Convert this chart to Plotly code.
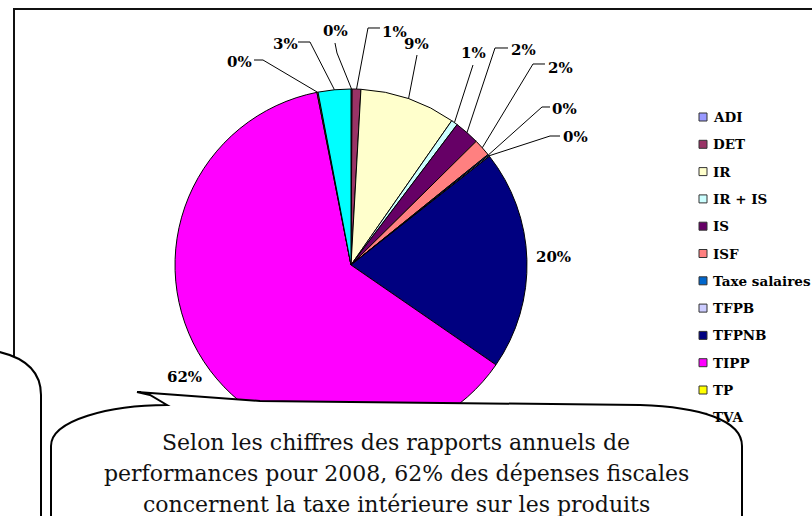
import math
import plotly.graph_objects as go

# ---------------- data ----------------
categories = ["ADI", "DET", "IR", "IR + IS", "IS", "ISF", "Taxe salaires",
              "TFPB", "TFPNB", "TIPP", "TP", "TVA"]
shares = [0.1, 0.8, 8.8, 0.6, 2.3, 1.6, 0.1, 0.1, 20.2, 62.3, 0.1, 3.0]
colors = ["#9999FF", "#993366", "#FFFFCC", "#CCFFFF", "#660066", "#FF8080",
          "#0066CC", "#CCCCFF", "#000080", "#FF00FF", "#FFFF00", "#00FFFF"]
callout_lines = [
    "Selon les chiffres des rapports annuels de",
    "performances pour 2008, 62% des dépenses fiscales",
    "concernent la taxe intérieure sur les produits",
]

# ---------------- layout helpers (pixel positions) ----------------
W, H = 812, 516
CX, CY, R = 351, 265, 176


def X(px):
    return px / W


def Y(py):
    return 1 - py / H


# label centres and leader-line waypoints (pixels)
label_pos = [(335, 31), (394, 32), (417, 44), (473, 53), (523, 50), (560, 68),
             (564, 109), (575, 137), (553, 257), (184, 377), (239, 62), (285, 44)]
leader_pts = [[(337, 53), (335, 43)], [(368, 28), (380, 28)], [(417, 55)],
              [(473, 65)], [(495, 48), (508, 48)], [(533, 64), (545, 64)],
              [(542, 107), (550, 107)], [(550, 136), (560, 136)], None, None,
              [(263, 60), (254, 60)], [(310, 42), (298, 42)]]

serif_b = dict(family="DejaVu Serif", size=15, color="black")

fig = go.Figure()
fig.add_trace(go.Pie(
    labels=categories, values=shares, sort=False, direction="clockwise",
    rotation=0, textinfo="none", hoverinfo="label+percent",
    marker=dict(colors=colors, line=dict(color="black", width=1)),
    domain=dict(x=[X(CX - R), X(CX + R)], y=[Y(CY + R), Y(CY - R)]),
    showlegend=False,
))

shapes = []
annotations = []

# chart frame
shapes.append(dict(type="rect", xref="paper", yref="paper", layer="below",
                   x0=X(14), y0=Y(9), x1=X(900), y1=Y(700),
                   line=dict(color="#111", width=2), fillcolor="rgba(0,0,0,0)"))

# data labels + leader lines
total = sum(shares)
cum = 0.0
for i, v in enumerate(shares):
    mid = (cum + v / 2) / total
    cum += v
    ang = 2 * math.pi * mid
    ax, ay = CX + R * math.sin(ang), CY - R * math.cos(ang)
    pct = round(100 * v / total)
    lx, ly = label_pos[i]
    annotations.append(dict(x=X(lx), y=Y(ly), xref="paper", yref="paper",
                            text=f"<b>{pct}%</b>", showarrow=False,
                            font=serif_b, xanchor="center", yanchor="middle"))
    if leader_pts[i]:
        pts = [(ax, ay)] + leader_pts[i]
        path = "M " + " L ".join(f"{X(px):.5f},{Y(py):.5f}" for px, py in pts)
        shapes.append(dict(type="path", xref="paper", yref="paper", path=path,
                           line=dict(color="black", width=1)))

# manual legend
for i, (lab, col) in enumerate(zip(categories, colors)):
    yc = 117 + i * 27.3
    shapes.append(dict(type="rect", xref="paper", yref="paper",
                       x0=X(699), x1=X(707), y0=Y(yc + 4), y1=Y(yc - 4),
                       fillcolor=col, line=dict(color="#333", width=1)))
    annotations.append(dict(x=X(711), y=Y(yc), xref="paper", yref="paper",
                            text=f"<b>{lab}</b>", showarrow=False,
                            xanchor="left", yanchor="middle",
                            font=dict(family="DejaVu Serif", size=13.5, color="black")))

# left callout (partially visible)
shapes.append(dict(type="path", xref="paper", yref="paper",
                   path=(f"M {X(-5)},{Y(351)} C {X(15)},{Y(355)} {X(41)},{Y(365)} {X(41)},{Y(395)} "
                         f"L {X(41)},{Y(560)} L {X(-5)},{Y(560)} Z"),
                   fillcolor="white", line=dict(color="black", width=2)))

# big callout with pointer
big = (f"M {X(167)},{Y(405)} L {X(150)},{Y(395)} L {X(137)},{Y(392)} "
       f"L {X(260)},{Y(401)} L {X(640)},{Y(405)} "
       f"C {X(700)},{Y(407)} {X(742)},{Y(420)} {X(742)},{Y(446)} "
       f"L {X(742)},{Y(560)} L {X(51)},{Y(560)} L {X(51)},{Y(446)} "
       f"C {X(51)},{Y(420)} {X(110)},{Y(405)} {X(167)},{Y(405)} Z")
shapes.append(dict(type="path", xref="paper", yref="paper", path=big,
                   fillcolor="white", line=dict(color="black", width=2)))
for j, line in enumerate(callout_lines):
    annotations.append(dict(x=X(396), y=Y(442 + j * 31), xref="paper", yref="paper",
                            text=line, showarrow=False, xanchor="center",
                            yanchor="middle",
                            font=dict(family="DejaVu Serif", size=22, color="#111")))

fig.update_layout(
    width=W, height=H, margin=dict(l=0, r=0, t=0, b=0),
    paper_bgcolor="white", plot_bgcolor="white",
    shapes=shapes, annotations=annotations, showlegend=False,
)

fig.write_html("out.html", config={"displayModeBar": False},
               post_script="document.body.style.margin='0';")
